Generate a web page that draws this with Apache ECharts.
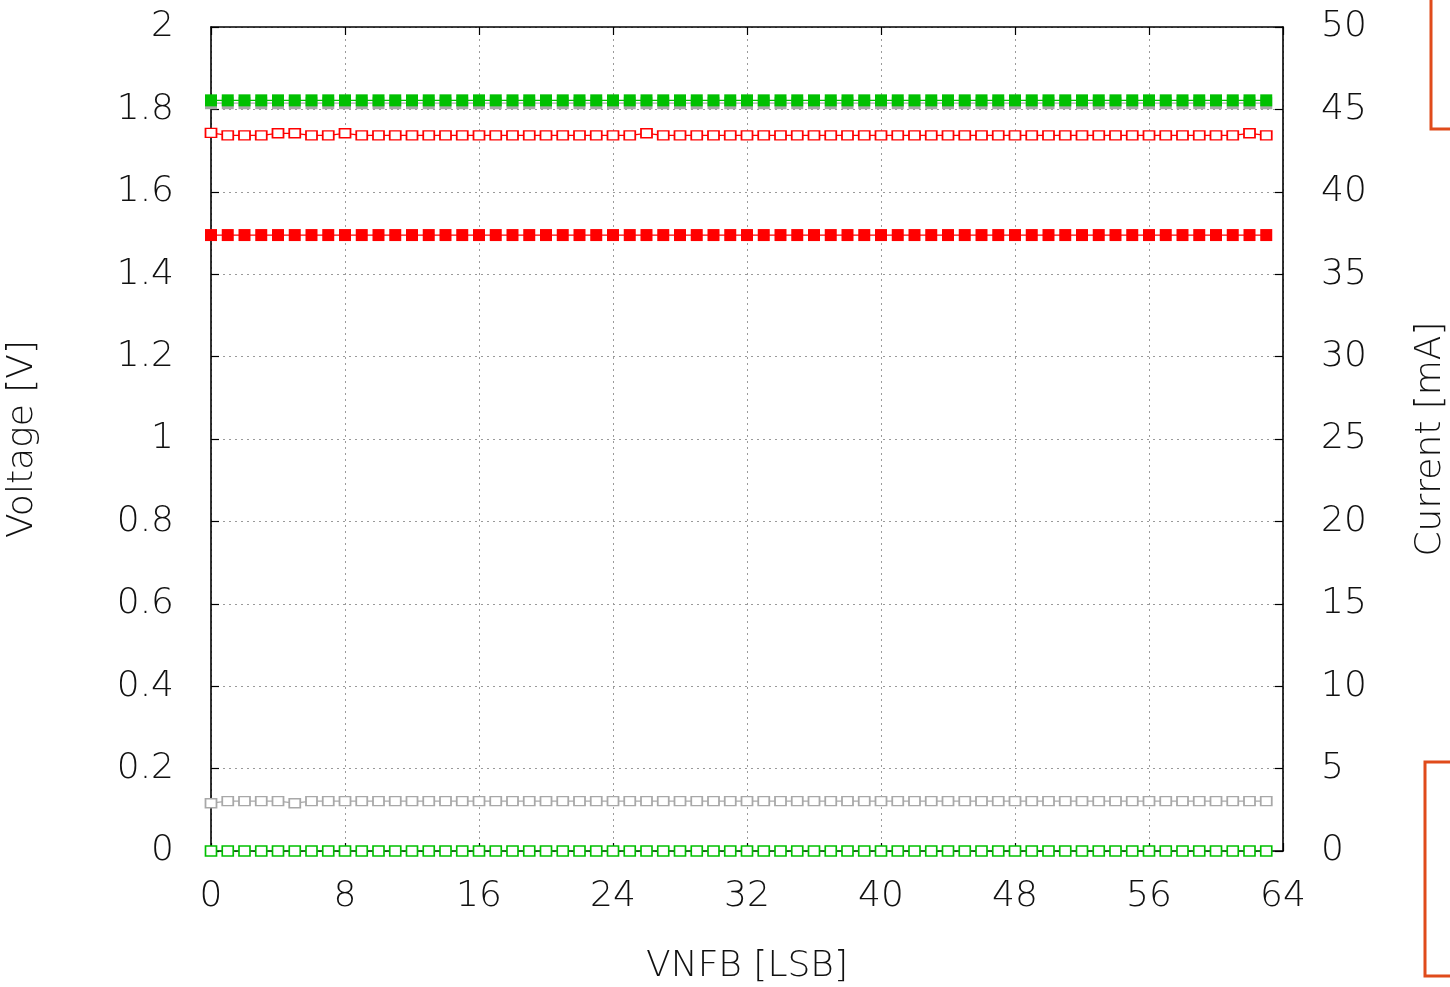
<!DOCTYPE html>
<html>
<head>
<meta charset="utf-8">
<script src="https://cdn.jsdelivr.net/npm/echarts@6/dist/echarts.min.js"></script>
<style>
  html, body { margin: 0; padding: 0; background: #fff; }
  #chart { width: 1450px; height: 987px; }
</style>
</head>
<body>
<div id="chart"></div>
<script>
// VNFB sweep codes
const codes = Array.from({ length: 64 }, (_, i) => i);

// Voltage readings [V]
const vGreenFilled = [
  1.822,1.822,1.822,1.822,1.822,1.822,1.822,1.822,1.822,1.822,1.822,1.822,1.822,1.822,1.822,1.822,
  1.822,1.822,1.822,1.822,1.822,1.822,1.822,1.822,1.822,1.822,1.822,1.822,1.822,1.822,1.822,1.822,
  1.822,1.822,1.822,1.822,1.822,1.822,1.822,1.822,1.822,1.822,1.822,1.822,1.822,1.822,1.822,1.822,
  1.822,1.822,1.822,1.822,1.822,1.822,1.822,1.822,1.822,1.822,1.822,1.822,1.822,1.822,1.822,1.822
];
const vGreyFilled = [
  1.815,1.815,1.815,1.815,1.815,1.815,1.815,1.815,1.815,1.815,1.815,1.815,1.815,1.815,1.815,1.815,
  1.815,1.815,1.815,1.815,1.815,1.815,1.815,1.815,1.815,1.815,1.815,1.815,1.815,1.815,1.815,1.815,
  1.815,1.815,1.815,1.815,1.815,1.815,1.815,1.815,1.815,1.815,1.815,1.815,1.815,1.815,1.815,1.815,
  1.815,1.815,1.815,1.815,1.815,1.815,1.815,1.815,1.815,1.815,1.815,1.815,1.815,1.815,1.815,1.815
];
const vRedOpen = [
  1.743,1.737,1.737,1.737,1.742,1.742,1.737,1.737,1.742,1.737,1.737,1.737,1.737,1.737,1.737,1.737,
  1.737,1.737,1.737,1.737,1.737,1.737,1.737,1.737,1.737,1.737,1.742,1.737,1.737,1.737,1.737,1.737,
  1.737,1.737,1.737,1.737,1.737,1.737,1.737,1.737,1.737,1.737,1.737,1.737,1.737,1.737,1.737,1.737,
  1.737,1.737,1.737,1.737,1.737,1.737,1.737,1.737,1.737,1.737,1.737,1.737,1.737,1.737,1.742,1.737
];
const vRedFilled = [
  1.495,1.495,1.495,1.495,1.495,1.495,1.495,1.495,1.495,1.495,1.495,1.495,1.495,1.495,1.495,1.495,
  1.495,1.495,1.495,1.495,1.495,1.495,1.495,1.495,1.495,1.495,1.495,1.495,1.495,1.495,1.495,1.495,
  1.495,1.495,1.495,1.495,1.495,1.495,1.495,1.495,1.495,1.495,1.495,1.495,1.495,1.495,1.495,1.495,
  1.495,1.495,1.495,1.495,1.495,1.495,1.495,1.495,1.495,1.495,1.495,1.495,1.495,1.495,1.495,1.495
];
const vGreyOpen = [
  0.116,0.121,0.121,0.121,0.121,0.116,0.121,0.121,0.121,0.121,0.121,0.121,0.121,0.121,0.121,0.121,
  0.121,0.121,0.121,0.121,0.121,0.121,0.121,0.121,0.121,0.121,0.121,0.121,0.121,0.121,0.121,0.121,
  0.121,0.121,0.121,0.121,0.121,0.121,0.121,0.121,0.121,0.121,0.121,0.121,0.121,0.121,0.121,0.121,
  0.121,0.121,0.121,0.121,0.121,0.121,0.121,0.121,0.121,0.121,0.121,0.121,0.121,0.121,0.121,0.121
];
const vGreenOpen = [
  0,0,0,0,0,0,0,0,0,0,0,0,0,0,0,0,
  0,0,0,0,0,0,0,0,0,0,0,0,0,0,0,0,
  0,0,0,0,0,0,0,0,0,0,0,0,0,0,0,0,
  0,0,0,0,0,0,0,0,0,0,0,0,0,0,0,0
];

const FONT = 'DejaVu Sans';
const TEXT = '#111';

const pair = arr => codes.map((c, i) => [c, arr[i]]);

function seriesOf(name, values, color, filled, size, z) {
  return {
    name,
    type: 'line',
    yAxisIndex: 0,
    data: pair(values),
    symbol: 'rect',
    symbolSize: size,
    showSymbol: true,
    z,
    lineStyle: { color, width: 1.2 },
    itemStyle: filled
      ? { color, borderColor: color, borderWidth: 0 }
      : { color: '#fff', borderColor: color, borderWidth: 1.6 },
    emphasis: { disabled: true },
    animation: false
  };
}

const gridSplit = { show: true, lineStyle: { color: '#9a9a9a', type: [2, 4], width: 1 } };
const axisLineBlack = { show: true, onZero: false, lineStyle: { color: '#000', width: 1.6 } };
const innerTick = { show: true, inside: true, length: 8, lineStyle: { color: '#000', width: 1.2 } };

const chart = echarts.init(document.getElementById('chart'), null, { renderer: 'canvas' });
chart.setOption({
  backgroundColor: '#fff',
  animation: false,
  grid: { left: 211, right: 167, top: 27, bottom: 136, containLabel: false, outerBoundsMode: 'none' },
  xAxis: [
    {
      type: 'value', min: 0, max: 64, interval: 8, position: 'bottom',
      name: 'VNFB [LSB]', nameLocation: 'middle', nameGap: 98,
      nameTextStyle: { fontFamily: FONT, fontSize: 36, color: TEXT, fontWeight: 300 },
      axisLine: axisLineBlack, axisTick: innerTick, splitLine: gridSplit,
      axisLabel: { fontFamily: FONT, fontSize: 36, color: TEXT, margin: 28, fontWeight: 300 }
    },
    {
      type: 'value', min: 0, max: 64, interval: 8, position: 'top',
      axisLine: axisLineBlack, axisTick: innerTick, splitLine: { show: false },
      axisLabel: { show: false }
    }
  ],
  yAxis: [
    {
      type: 'value', min: 0, max: 2, interval: 0.2, position: 'left',
      name: 'Voltage [V]', nameLocation: 'middle', nameGap: 170, nameRotate: 90,
      nameTextStyle: { fontFamily: FONT, fontSize: 36, color: TEXT, fontWeight: 300 },
      axisLine: axisLineBlack, axisTick: innerTick, splitLine: gridSplit,
      axisLabel: { fontFamily: FONT, fontSize: 36, color: TEXT, margin: 37, fontWeight: 300 }
    },
    {
      type: 'value', min: 0, max: 50, interval: 5, position: 'right',
      name: 'Current [mA]', nameLocation: 'middle', nameGap: 130, nameRotate: 90,
      nameTextStyle: { fontFamily: FONT, fontSize: 36, color: TEXT, fontWeight: 300 },
      axisLine: axisLineBlack, axisTick: innerTick, splitLine: { show: false },
      axisLabel: { fontFamily: FONT, fontSize: 36, color: TEXT, margin: 38, fontWeight: 300 }
    }
  ],
  series: [
    seriesOf('V grey filled', vGreyFilled, '#a8a8a8', true, 12, 2),
    seriesOf('V green filled', vGreenFilled, '#00c000', true, 12, 3),
    seriesOf('V red open', vRedOpen, '#ff0000', false, [11, 9], 3),
    seriesOf('V red filled', vRedFilled, '#ff0000', true, 12, 3),
    seriesOf('V grey open', vGreyOpen, '#a8a8a8', false, [11, 9], 3),
    seriesOf('V green open', vGreenOpen, '#00c000', false, [11, 10], 4)
  ],
  graphic: [
    {
      type: 'rect', silent: true,
      shape: { x: 1431, y: -10, width: 60, height: 139 },
      style: { fill: 'none', stroke: '#e04b1b', lineWidth: 3 }
    },
    {
      type: 'rect', silent: true,
      shape: { x: 1425, y: 762, width: 60, height: 214 },
      style: { fill: 'none', stroke: '#e04b1b', lineWidth: 3 }
    }
  ]
});
</script>
</body>
</html>
